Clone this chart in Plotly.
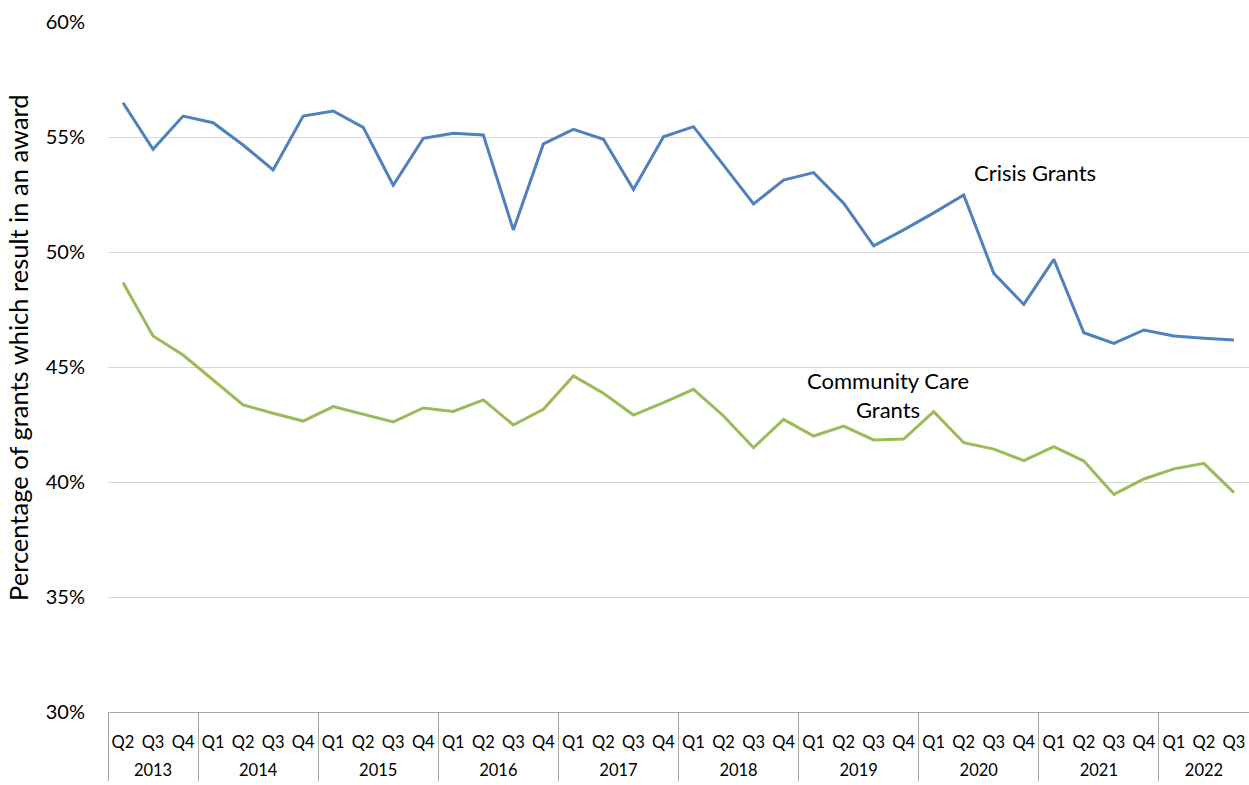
import plotly.graph_objects as go

years = ["2013"] * 3 + [str(y) for y in range(2014, 2022) for _ in range(4)] + ["2022"] * 3
quarters = ["Q2", "Q3", "Q4"] + ["Q1", "Q2", "Q3", "Q4"] * 8 + ["Q1", "Q2", "Q3"]

crisis_grants = [56.49, 54.47, 55.91, 55.62, 54.65, 53.57, 55.91, 56.13, 55.42, 52.90,
                 54.94, 55.16, 55.09, 50.96, 54.70, 55.33, 54.90, 52.72, 55.01, 55.45,
                 53.78, 52.09, 53.13, 53.45, 52.12, 50.27, 50.96, 51.70, 52.48, 49.07,
                 47.72, 49.68, 46.49, 46.03, 46.61, 46.35, 46.25, 46.17]
community_care_grants = [48.67, 46.35, 45.52, 44.43, 43.35, 42.99, 42.65, 43.28, 42.94, 42.61,
                         43.22, 43.07, 43.57, 42.48, 43.16, 44.61, 43.86, 42.91, 43.45, 44.03,
                         42.87, 41.49, 42.72, 42.00, 42.43, 41.83, 41.87, 43.06, 41.71, 41.43,
                         40.93, 41.54, 40.91, 39.46, 40.13, 40.57, 40.81, 39.54]

FONT = "Lato"

# Plotly orders inner categories of a multicategory axis by first appearance;
# 2013 starts at Q2, so its quarter labels get an invisible zero-width suffix
# to keep the Q1..Q4 order of the later years.
first_year = years[0]
quarter_labels = [q + "\u200b" if y == first_year else q for y, q in zip(years, quarters)]
year_labels = ["<br>" + y for y in years]
x_cats = [year_labels, quarter_labels]
n_points = len(quarters)

fig = go.Figure()
fig.add_trace(go.Scatter(x=x_cats, y=crisis_grants, mode="lines",
                         line=dict(color="#4F81BD", width=3), name="Crisis Grants"))
fig.add_trace(go.Scatter(x=x_cats, y=community_care_grants, mode="lines",
                         line=dict(color="#9BBB59", width=3), name="Community Care Grants"))

fig.add_annotation(text="Crisis Grants", xref="paper", yref="paper", x=0.8124, y=0.7826,
                   xanchor="center", yanchor="middle",
                   showarrow=False, font=dict(family=FONT, size=22, color="#000000"))
fig.add_annotation(text="Community Care<br>Grants", xref="paper", yref="paper", x=0.6836, y=0.4587,
                   xanchor="center", yanchor="middle",
                   showarrow=False, font=dict(family=FONT, size=22, color="#000000"))
fig.add_annotation(text="Percentage of grants which result in an award", textangle=-90,
                   xref="paper", yref="paper", x=-0.0789, y=0.529,
                   xanchor="center", yanchor="middle",
                   showarrow=False, font=dict(family=FONT, size=25.5, color="#000000"))

fig.update_layout(
    width=1249, height=785,
    margin=dict(l=108, r=0, t=22, b=73),
    paper_bgcolor="white", plot_bgcolor="white",
    showlegend=False,
    font=dict(family=FONT, size=16, color="#000000"),
)
fig.update_xaxes(
    type="multicategory", automargin=False,
    range=[-0.5, n_points - 0.5],
    showline=True, linecolor="#A6A6A6", linewidth=1,
    showgrid=False,
    showdividers=True, dividercolor="#A6A6A6", dividerwidth=1,
    ticks="", tickangle=0, ticklabelstandoff=15, tickfont=dict(family=FONT, size=16.5),
)
fig.update_yaxes(
    automargin=False,
    range=[30, 60], dtick=5, ticksuffix="%",
    showgrid=True, gridcolor="#D9D9D9", gridwidth=1,
    zeroline=False, showline=False,
    ticklabelstandoff=22,
    tickfont=dict(family=FONT, size=20),
)

fig.write_html("out.html", config={"displayModeBar": False},
               post_script="document.body.style.margin='0';")
